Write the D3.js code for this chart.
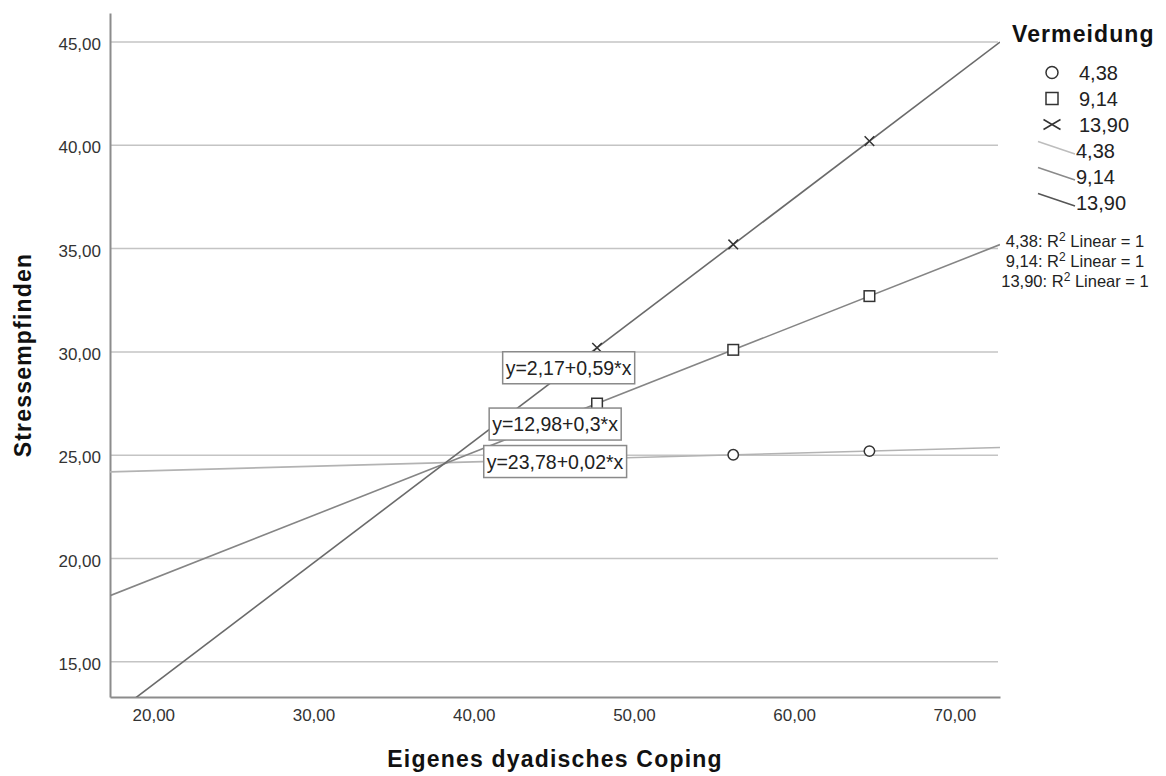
<!DOCTYPE html>
<html>
<head>
<meta charset="utf-8">
<script src="https://cdn.jsdelivr.net/npm/d3@7"></script>
<style>
  html, body { margin: 0; padding: 0; background: #fff; }
  svg { display: block; font-family: "Liberation Sans", Arial, sans-serif; }
</style>
</head>
<body>
<svg id="chart" width="1166" height="776"></svg>
<script>
// ---------------- data ----------------
const groups = ["4,38", "9,14", "13,90"];
const xValues = [47.7, 56.2, 64.7];
const circleY = [24.84, 25.02, 25.20];   // Vermeidung 4,38
const squareY = [27.5, 30.1, 32.7];      // Vermeidung 9,14
const crossY  = [30.2, 35.2, 40.2];      // Vermeidung 13,90
const equations = ["y=23,78+0,02*x", "y=12,98+0,3*x", "y=2,17+0,59*x"];
const xTicks = [20, 30, 40, 50, 60, 70];
const yTicks = [15, 20, 25, 30, 35, 40, 45];
const xDomain = [17.3, 72.85];
const yDomain = [13.3, 46.4];
const xTitle = "Eigenes dyadisches Coping";
const yTitle = "Stressempfinden";
const legendTitle = "Vermeidung";

// ---------------- layout ----------------
const svg = d3.select("#chart");
const L = 110, R = 1000, T = 13, B = 697;
const x = d3.scaleLinear().domain(xDomain).range([L, R]);
const y = d3.scaleLinear().domain(yDomain).range([B, T]);
const locale = d3.formatLocale({decimal: ",", thousands: ".", grouping: [3], currency: ["", ""]});
const fmt = locale.format(".2f");

const series = [
  {name: groups[0], ys: circleY, shape: "circle", lineColor: "#b3b3b3", eq: equations[0], lab: {dx: -42, dy: 3}},
  {name: groups[1], ys: squareY, shape: "square", lineColor: "#858585", eq: equations[1], lab: {dx: -42, dy: 20.5}},
  {name: groups[2], ys: crossY,  shape: "cross",  lineColor: "#6a6a6a", eq: equations[2], lab: {dx: -28.5, dy: 20}}
];

// clip
svg.append("defs").append("clipPath").attr("id", "plotclip")
  .append("rect").attr("x", L).attr("y", T).attr("width", R - L).attr("height", B - T);

// gridlines
svg.append("g").selectAll("line").data(yTicks).join("line")
  .attr("x1", L).attr("x2", R - 2)
  .attr("y1", d => y(d)).attr("y2", d => y(d))
  .attr("stroke", "#c4c4c4").attr("stroke-width", 1.5);

// axes
const yAxis = d3.axisLeft(y).tickValues(yTicks).tickFormat(fmt).tickSize(0).tickPadding(9);
const gy = svg.append("g").attr("transform", `translate(${L},0)`).call(yAxis);
gy.select(".domain").attr("stroke", "#8c8c8c").attr("stroke-width", 2);
gy.selectAll("text").attr("font-size", 17).attr("fill", "#333").attr("dy", "0.45em")
  .attr("font-family", "Liberation Sans, Arial, sans-serif");

const xAxis = d3.axisBottom(x).tickValues(xTicks).tickFormat(fmt).tickSize(0).tickPadding(12);
const gx = svg.append("g").attr("transform", `translate(0,${B})`).call(xAxis);
gx.select(".domain").attr("stroke", "#8c8c8c").attr("stroke-width", 2);
gx.selectAll("text").attr("font-size", 17).attr("fill", "#333")
  .attr("font-family", "Liberation Sans, Arial, sans-serif");

// fit lines (least squares from the data)
function fit(xs, ys) {
  const mx = d3.mean(xs), my = d3.mean(ys);
  const b = d3.sum(xs, (v, i) => (v - mx) * (ys[i] - my)) / d3.sum(xs, v => (v - mx) * (v - mx));
  return {a: my - b * mx, b};
}
const lineGen = d3.line().x(d => x(d[0])).y(d => y(d[1]));
const fitG = svg.append("g").attr("clip-path", "url(#plotclip)");
series.forEach(s => {
  const f = fit(xValues, s.ys);
  const pts = xDomain.map(v => [v, f.a + f.b * v]);
  fitG.append("path").attr("d", lineGen(pts)).attr("fill", "none")
    .attr("stroke", s.lineColor).attr("stroke-width", 1.6);
});

// markers
function drawMarker(g, shape, cx, cy, big) {
  const col = "#333";
  if (shape === "circle") {
    g.append("circle").attr("cx", cx).attr("cy", cy).attr("r", big ? 6 : 5.2)
      .attr("fill", "#fff").attr("stroke", col).attr("stroke-width", 1.5);
  } else if (shape === "square") {
    const h = big ? 6 : 5.3;
    g.append("rect").attr("x", cx - h).attr("y", cy - h).attr("width", 2 * h).attr("height", 2 * h)
      .attr("fill", "#fff").attr("stroke", col).attr("stroke-width", 1.5);
  } else {
    const w = big ? 8.5 : 4.8, hh = big ? 5 : 4.8;
    g.append("path").attr("d", `M${cx - w},${cy - hh}L${cx + w},${cy + hh}M${cx - w},${cy + hh}L${cx + w},${cy - hh}`)
      .attr("stroke", col).attr("stroke-width", 1.5).attr("fill", "none");
  }
}
const markG = svg.append("g");
series.forEach(s => {
  xValues.forEach((xv, i) => drawMarker(markG, s.shape, x(xv), y(s.ys[i]), false));
});

// equation labels
const labG = svg.append("g");
[series[2], series[1], series[0]].forEach(s => {
  const px = x(xValues[0]), py = y(s.ys[0]);
  const cx = px + s.lab.dx, cy = py + s.lab.dy;
  const g = labG.append("g");
  const rect = g.append("rect");
  const t = g.append("text").attr("x", cx).attr("y", cy).attr("text-anchor", "middle")
    .attr("dy", "0.36em").attr("font-size", 19.5).attr("fill", "#222").text(s.eq);
  const bb = t.node().getBBox();
  rect.attr("x", bb.x - 3).attr("y", cy - 16).attr("width", bb.width + 6).attr("height", 32)
    .attr("fill", "#fff").attr("stroke", "#8a8a8a").attr("stroke-width", 1.5);
});

// axis titles
svg.append("text").attr("x", (L + R) / 2).attr("y", 767).attr("text-anchor", "middle")
  .attr("font-size", 23).attr("font-weight", "bold").attr("letter-spacing", 1.2).attr("fill", "#111").text(xTitle);
svg.append("text").attr("transform", `translate(31,${(T + B) / 2}) rotate(-90)`).attr("text-anchor", "middle")
  .attr("font-size", 23).attr("font-weight", "bold").attr("letter-spacing", 1.2).attr("fill", "#111").text(yTitle);

// legend
const lg = svg.append("g");
lg.append("text").attr("x", 1012).attr("y", 41.5).attr("font-size", 23).attr("font-weight", "bold")
  .attr("letter-spacing", 1.1).attr("fill", "#111").text(legendTitle);
const rowY0 = 72.5, rowStep = 26;
series.forEach((s, i) => {
  const cy = rowY0 + i * rowStep;
  drawMarker(lg, s.shape, 1052, cy, true);
  lg.append("text").attr("x", 1079).attr("y", cy).attr("dy", "0.36em").attr("font-size", 20)
    .attr("fill", "#222").text(s.name);
});
const legendLineColors = ["#bdbdbd", "#8a8a8a", "#555"];
series.forEach((s, i) => {
  const cy = rowY0 + (i + 3) * rowStep;
  lg.append("line").attr("x1", 1038).attr("y1", cy - 9).attr("x2", 1075).attr("y2", cy + 3.5)
    .attr("stroke", legendLineColors[i]).attr("stroke-width", 1.5);
  lg.append("text").attr("x", 1076).attr("y", cy).attr("dy", "0.36em").attr("font-size", 20)
    .attr("fill", "#222").text(s.name);
});
series.forEach((s, i) => {
  const t = lg.append("text").attr("x", 1075).attr("y", 246.5 + i * 20).attr("text-anchor", "middle")
    .attr("font-size", 16.5).attr("fill", "#222");
  t.append("tspan").text(s.name + ": R");
  t.append("tspan").attr("font-size", 12).attr("dy", -6).text("2");
  t.append("tspan").attr("dy", 6).text(" Linear = 1");
});
</script>
</body>
</html>
